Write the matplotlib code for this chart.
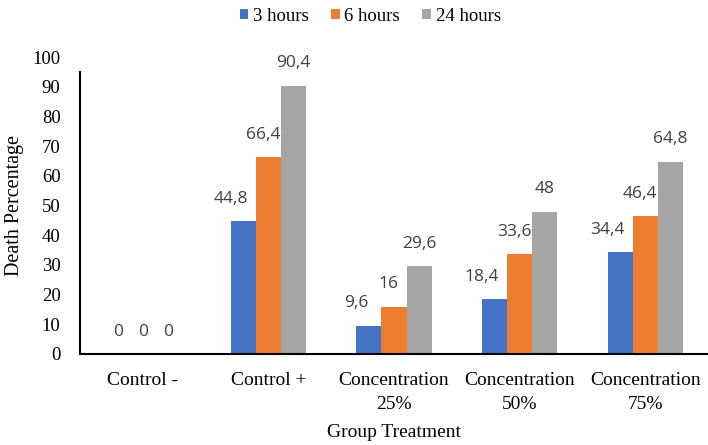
import numpy as np
import matplotlib.pyplot as plt

groups = ["Control -", "Control +", "Concentration\n25%", "Concentration\n50%", "Concentration\n75%"]
series = ["3 hours", "6 hours", "24 hours"]
h3 = [0, 44.8, 9.6, 18.4, 34.4]
h6 = [0, 66.4, 16, 33.6, 46.4]
h24 = [0, 90.4, 29.6, 48, 64.8]
colors = ["#4472C4", "#ED7D31", "#A5A5A5"]

plt.rcParams["font.family"] = "Liberation Serif"

fig = plt.figure(figsize=(7.08, 4.45), dpi=100)
ax = fig.add_axes([0.113, 0.2045, 0.887, 0.667])

x = np.arange(len(groups))
w = 0.2
label_shift = [-9, -4, 0]  # nudge labels left so they don't collide
for i, (vals, name) in enumerate(zip([h3, h6, h24], series)):
    bars = ax.bar(x + (i - 1) * w, vals, w, color=colors[i], label=name)
    for b, v in zip(bars, vals):
        txt = f"{v:g}".replace(".", ",")
        ax.annotate(txt, (b.get_x() + b.get_width() / 2, v),
                    xytext=(label_shift[i] if v > 0 else 0, 16), textcoords="offset points",
                    ha="center", va="center", fontsize=12.5, color="#404040",
                    family="Open Sans")

ax.set_xlim(-0.5, 4.5)
ax.set_ylim(0, 100)
ax.set_yticks(np.arange(0, 101, 10))
ax.set_xticks(x)
ax.set_xticklabels(groups, fontsize=14, linespacing=1.5)
ax.tick_params(axis="y", length=0, labelsize=13.5, pad=14)
ax.tick_params(axis="x", length=0, pad=13)
for s in ["top", "right"]:
    ax.spines[s].set_visible(False)
ax.spines["left"].set_bounds(0, 95)
ax.spines["left"].set_linewidth(1.5)
ax.spines["bottom"].set_linewidth(1.5)

ax.set_ylabel("Death Percentage", fontsize=14.5, labelpad=6)
ax.set_xlabel("Group Treatment", fontsize=14, labelpad=8)

fig.legend(loc="upper center", bbox_to_anchor=(0.523, 1.02), ncol=3, frameon=False,
           fontsize=13.5, handlelength=0.45, handleheight=0.45, handletextpad=0.25,
           columnspacing=1.2)

fig.savefig("out.png", dpi=100)
